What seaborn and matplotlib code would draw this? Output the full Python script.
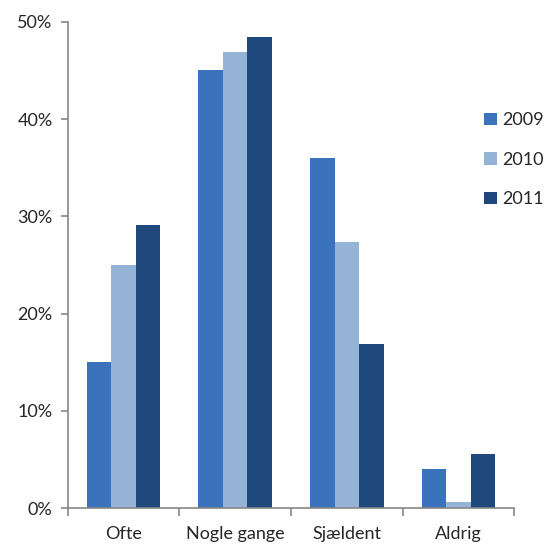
import pandas as pd
import numpy as np
import matplotlib.pyplot as plt
import seaborn as sns
from matplotlib.ticker import FixedLocator, PercentFormatter

categories = ["Ofte", "Nogle gange", "Sjældent", "Aldrig"]
years = ["2009", "2010", "2011"]
values_2009 = [15.0, 45.0, 36.0, 4.0]
values_2010 = [25.0, 46.9, 27.4, 0.6]
values_2011 = [29.1, 48.4, 16.9, 5.6]
colors = ["#3A72BC", "#95B3D7", "#1F497D"]

df = pd.DataFrame({
    "category": categories * 3,
    "year": [y for y in years for _ in categories],
    "value": values_2009 + values_2010 + values_2011,
})

sns.set_style("white")
plt.rcParams["font.family"] = ["Lato", "DejaVu Sans"]

fig = plt.figure(figsize=(5.47, 5.44), dpi=100)
ax = fig.add_axes([0.124, 0.066, 0.816, 0.894])

sns.barplot(data=df, x="category", y="value", hue="year", palette=colors,
            width=0.66, saturation=1, linewidth=0, ax=ax, legend=True)

axis_color = "#868686"
ax.set_xlim(-0.5, 3.5)
ax.set_ylim(0, 50)
ax.set_yticks([0, 10, 20, 30, 40, 50])
ax.yaxis.set_major_formatter(PercentFormatter(decimals=0))
ax.set_xlabel("")
ax.set_ylabel("")

for side in ["top", "right"]:
    ax.spines[side].set_visible(False)
for side in ["left", "bottom"]:
    ax.spines[side].set_color(axis_color)
    ax.spines[side].set_linewidth(1.2)

ax.tick_params(axis="y", direction="out", length=5, color=axis_color, width=1.2,
               labelsize=13, pad=6, left=True)
ax.tick_params(axis="x", which="major", length=0, labelsize=13, pad=13)
ax.xaxis.set_minor_locator(FixedLocator(np.arange(-0.5, 4, 1)))
ax.tick_params(axis="x", which="minor", direction="out", length=6,
               color=axis_color, width=1.2, bottom=True)

handles, labels = ax.get_legend_handles_labels()
ax.legend(handles, labels, loc="center left", bbox_to_anchor=(0.885, 0.706),
          bbox_transform=fig.transFigure, frameon=False, fontsize=13,
          borderpad=0, borderaxespad=0,
          handlelength=0.7, handleheight=0.7, handletextpad=0.3, labelspacing=1.3)

plt.savefig("out.png", dpi=100)
